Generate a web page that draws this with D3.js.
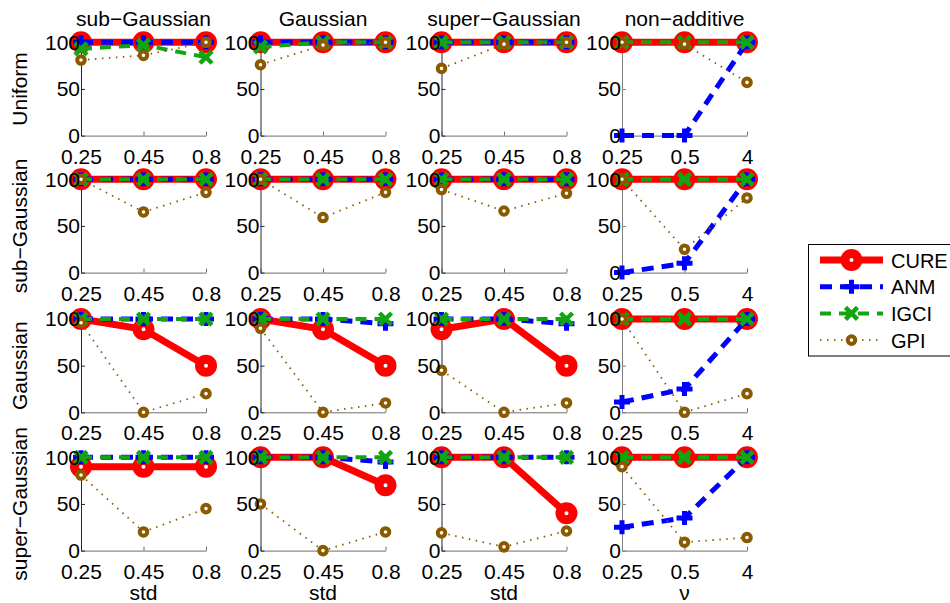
<!DOCTYPE html>
<html>
<head>
<meta charset="utf-8">
<script src="https://cdn.jsdelivr.net/npm/d3@7/dist/d3.min.js"></script>
<style>
  body { margin: 0; background: #fff; }
  text { font-family: "Liberation Sans", Arial, sans-serif; }
</style>
</head>
<body>
<script>
// row = source distribution, column = noise type
var rowNames = ["Uniform", "sub\u2212Gaussian", "Gaussian", "super\u2212Gaussian"];
var colNames = ["sub\u2212Gaussian", "Gaussian", "super\u2212Gaussian", "non\u2212additive"];
var stdTicks = ["0.25", "0.45", "0.8"];
var nuTicks = ["0.25", "0.5", "4"];
var xTitles = ["std", "std", "std", "\u03bd"];
var yTicks = [0, 50, 100];
var methodNames = ["CURE", "ANM", "IGCI", "GPI"];

// accuracy (%) per [row][col][x]
var cure = [
  [[100,100,100],[100,100,100],[100,100,100],[100,100,100]],
  [[100,100,100],[100,100,100],[100,100,100],[100,100,100]],
  [[100,89,50],[100,89,50],[89,100,50],[100,100,100]],
  [[90,90,90],[100,100,70],[100,100,40],[100,100,100]]
];
var anm = [
  [[100,100,100],[100,100,100],[100,100,100],[0,0,100]],
  [[100,100,100],[100,100,100],[100,100,100],[0,10,100]],
  [[100,100,100],[100,100,95],[100,100,95],[11,25,100]],
  [[100,100,100],[100,100,95],[100,100,100],[25,35,100]]
];
var igci = [
  [[93,97,84],[95,100,100],[100,100,100],[100,100,100]],
  [[100,100,100],[100,100,100],[100,100,100],[100,100,100]],
  [[100,100,100],[100,100,100],[100,100,100],[100,100,100]],
  [[100,100,100],[100,100,100],[100,100,100],[100,100,100]]
];
var gpi = [
  [[81,86,100],[76,97,100],[72,98,100],[100,98,57]],
  [[100,65,86],[100,59,86],[89,66,85],[100,25,80]],
  [[96,0,20],[90,0,10],[45,0,10],[100,0,20]],
  [[81,20,45],[50,0,20],[19,4,21],[90,9,14]]
];

var W = 950, H = 603;
var colX = [81, 260.5, 441.5, 622],
    rowY = [42.3, 179.3, 319, 457.3],
    pw = 125, ph = 93.3,
    fs = 21;

var styles = {
  CURE: { color: "#ff0000", width: 7, dash: null, marker: "bigO" },
  ANM:  { color: "#0000ff", width: 5, dash: "12,8", marker: "plus" },
  IGCI: { color: "#12a512", width: 4, dash: "11,8", marker: "x" },
  GPI:  { color: "#8b5a00", width: 1.8, dash: "1.5,5.5", marker: "o" }
};
var allData = { CURE: cure, ANM: anm, IGCI: igci, GPI: gpi };

var svg = d3.select("body").append("svg")
    .attr("width", W)
    .attr("height", H);

function drawMarker(g, kind, color, px, py) {
  if (kind == "bigO") {
    g.append("circle").attr("cx", px).attr("cy", py).attr("r", 6.5)
      .attr("fill", "#fff").attr("stroke", color).attr("stroke-width", 9);
  } else if (kind == "plus") {
    g.append("path").attr("d", "M" + (px - 8) + "," + py + "H" + (px + 8) + "M" + px + "," + (py - 7) + "V" + (py + 7))
      .attr("stroke", color).attr("stroke-width", 5).attr("fill", "none");
  } else if (kind == "x") {
    g.append("path").attr("d", "M" + (px - 6) + "," + (py - 6) + "L" + (px + 6) + "," + (py + 6) +
        "M" + (px - 6) + "," + (py + 6) + "L" + (px + 6) + "," + (py - 6))
      .attr("stroke", color).attr("stroke-width", 4.5).attr("fill", "none");
  } else {
    g.append("circle").attr("cx", px).attr("cy", py).attr("r", 3.8)
      .attr("fill", "#fff").attr("stroke", color).attr("stroke-width", 4);
  }
}

rowNames.forEach(function(rowName, r) {
  colNames.forEach(function(colName, c) {
    var ticks = c == 3 ? nuTicks : stdTicks;
    var g = svg.append("g").attr("transform", "translate(" + colX[c] + "," + rowY[r] + ")");
    var axisG = g.append("g"), dataG = g.append("g"), labelG = g.append("g");

    var x = d3.scalePoint().domain(ticks).range([0, pw]).padding(0);
    var y = d3.scaleLinear().domain([0, 100]).range([ph, 0]);

    var xAxis = d3.axisBottom(x).tickSizeInner(-4).tickSizeOuter(0).tickPadding(13);
    var yAxis = d3.axisLeft(y).tickValues(yTicks).tickSizeInner(-4).tickSizeOuter(0).tickPadding(1);

    // lines below the data, labels above it
    [axisG, labelG].forEach(function(layer, k) {
      var xa = layer.append("g").attr("transform", "translate(0," + ph + ")").call(xAxis);
      var ya = layer.append("g").call(yAxis);
      xa.selectAll("path, line").attr("stroke", "#6e6e6e");
      ya.selectAll("path, line").attr("stroke", c == 3 ? "#808080" : "#262626");
      if (k == 0) layer.selectAll("text").remove();
      else layer.selectAll("path, line").remove();
      layer.selectAll("g").attr("font-family", null).attr("font-size", null);
    });
    labelG.selectAll(".tick text")
        .attr("font-size", fs)
        .attr("fill", "#000");

    methodNames.forEach(function(m) {
      var st = styles[m];
      var vals = allData[m][r][c];
      var pts = ticks.map(function(t, i) { return [x(t), y(vals[i])]; });
      var sg = dataG.append("g");
      sg.append("path")
          .attr("d", d3.line()(pts))
          .attr("fill", "none")
          .attr("stroke", st.color)
          .attr("stroke-width", st.width)
          .attr("stroke-dasharray", st.dash);
      pts.forEach(function(p) { drawMarker(sg, st.marker, st.color, p[0], p[1]); });
    });

    if (r == 0) {
      svg.append("text")
          .attr("x", colX[c] + pw / 2)
          .attr("y", 26)
          .attr("text-anchor", "middle")
          .attr("font-size", fs)
          .text(colName);
    }
    if (r == 3) {
      svg.append("text")
          .attr("x", colX[c] + pw / 2)
          .attr("y", 600)
          .attr("text-anchor", "middle")
          .attr("font-size", fs)
          .text(xTitles[c]);
    }
  });

  svg.append("text")
      .attr("transform", "translate(27," + (rowY[r] + ph / 2) + ") rotate(-90)")
      .attr("text-anchor", "middle")
      .attr("font-size", fs)
      .text(rowName);
});

// legend
var legend = svg.append("g");
legend.append("rect")
    .attr("x", 808.5).attr("y", 244.5)
    .attr("width", 160).attr("height", 111.5)
    .attr("fill", "#fff").attr("stroke", "#000").attr("stroke-width", 1);

methodNames.forEach(function(m, i) {
  var st = styles[m];
  var ly = 260 + i * 26.7;
  legend.append("path")
      .attr("d", "M820," + ly + "H883")
      .attr("stroke", st.color)
      .attr("stroke-width", st.width)
      .attr("stroke-dasharray", st.dash)
      .attr("fill", "none");
  drawMarker(legend, st.marker, st.color, 851.5, ly);
  legend.append("text")
      .attr("x", 891)
      .attr("y", ly + 7.5)
      .attr("font-size", 20)
      .text(m);
});
</script>
</body>
</html>
